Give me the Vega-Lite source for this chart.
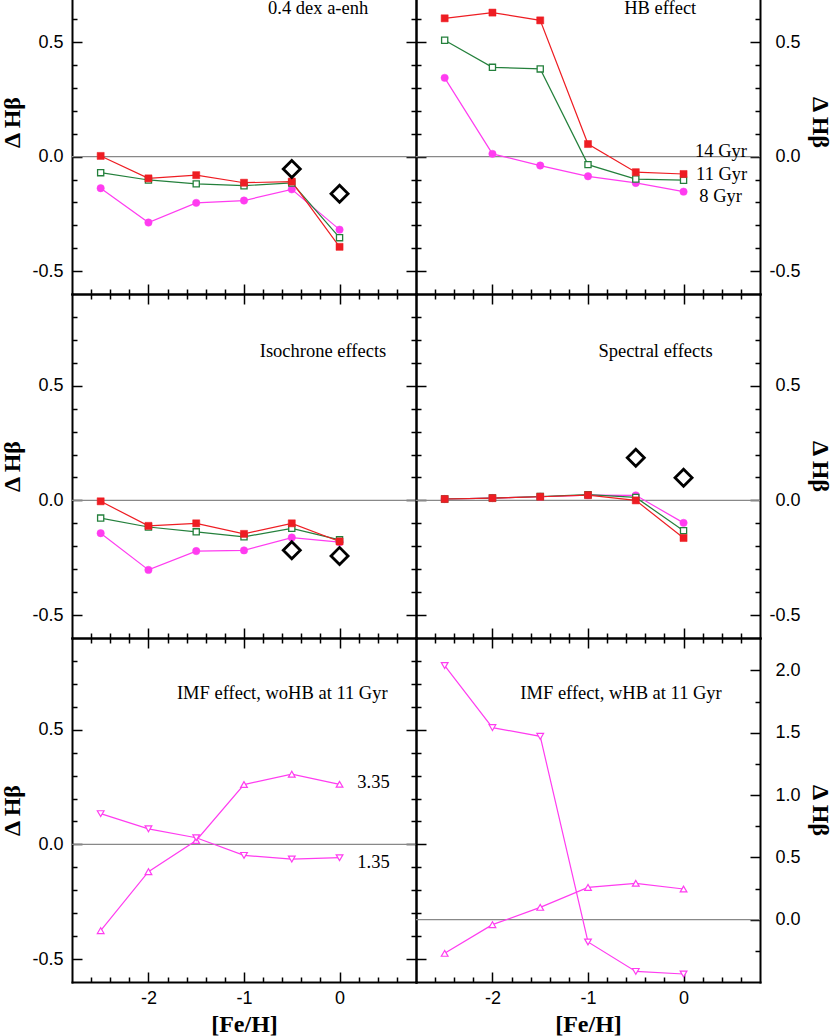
{
  "$schema": "https://vega.github.io/schema/vega-lite/v6.json",
  "padding": {"left": 0, "top": 0, "right": 0, "bottom": 0},
  "config": {
    "view": {"stroke": null},
    "axis": {"domainColor": "black", "domainWidth": 2, "domainCap": "square", "tickColor": "black", "tickWidth": 1.5, "grid": false, "labelFont": "Liberation Sans", "labelFontSize": 18, "labelColor": "black", "titleFont": "Liberation Serif", "titleFontSize": 24, "titleFontWeight": "bold", "titleColor": "black", "labelFlush": false, "labelOverlap": false, "labelBound": false}
  },
  "datasets": {
    "pts": [
      {"p":"A","s":"8","x":-2.5,"y":-0.138},{"p":"A","s":"8","x":-2,"y":-0.288},{"p":"A","s":"8","x":-1.5,"y":-0.202},{"p":"A","s":"8","x":-1,"y":-0.192},{"p":"A","s":"8","x":-0.5,"y":-0.143},{"p":"A","s":"8","x":0,"y":-0.319},
      {"p":"A","s":"11","x":-2.5,"y":-0.070},{"p":"A","s":"11","x":-2,"y":-0.102},{"p":"A","s":"11","x":-1.5,"y":-0.119},{"p":"A","s":"11","x":-1,"y":-0.127},{"p":"A","s":"11","x":-0.5,"y":-0.115},{"p":"A","s":"11","x":0,"y":-0.354},
      {"p":"A","s":"14","x":-2.5,"y":0.003},{"p":"A","s":"14","x":-2,"y":-0.095},{"p":"A","s":"14","x":-1.5,"y":-0.081},{"p":"A","s":"14","x":-1,"y":-0.114},{"p":"A","s":"14","x":-0.5,"y":-0.109},{"p":"A","s":"14","x":0,"y":-0.394},
      {"p":"A","s":"d","x":-0.5,"y":-0.054},{"p":"A","s":"d","x":0,"y":-0.162},
      {"p":"B","s":"8","x":-2.5,"y":0.344},{"p":"B","s":"8","x":-2,"y":0.012},{"p":"B","s":"8","x":-1.5,"y":-0.039},{"p":"B","s":"8","x":-1,"y":-0.086},{"p":"B","s":"8","x":-0.5,"y":-0.115},{"p":"B","s":"8","x":0,"y":-0.153},
      {"p":"B","s":"11","x":-2.5,"y":0.508},{"p":"B","s":"11","x":-2,"y":0.390},{"p":"B","s":"11","x":-1.5,"y":0.383},{"p":"B","s":"11","x":-1,"y":-0.035},{"p":"B","s":"11","x":-0.5,"y":-0.098},{"p":"B","s":"11","x":0,"y":-0.103},
      {"p":"B","s":"14","x":-2.5,"y":0.604},{"p":"B","s":"14","x":-2,"y":0.629},{"p":"B","s":"14","x":-1.5,"y":0.595},{"p":"B","s":"14","x":-1,"y":0.055},{"p":"B","s":"14","x":-0.5,"y":-0.068},{"p":"B","s":"14","x":0,"y":-0.076},
      {"p":"C","s":"8","x":-2.5,"y":-0.143},{"p":"C","s":"8","x":-2,"y":-0.303},{"p":"C","s":"8","x":-1.5,"y":-0.221},{"p":"C","s":"8","x":-1,"y":-0.218},{"p":"C","s":"8","x":-0.5,"y":-0.162},{"p":"C","s":"8","x":0,"y":-0.182},
      {"p":"C","s":"11","x":-2.5,"y":-0.077},{"p":"C","s":"11","x":-2,"y":-0.116},{"p":"C","s":"11","x":-1.5,"y":-0.137},{"p":"C","s":"11","x":-1,"y":-0.159},{"p":"C","s":"11","x":-0.5,"y":-0.122},{"p":"C","s":"11","x":0,"y":-0.172},
      {"p":"C","s":"14","x":-2.5,"y":-0.004},{"p":"C","s":"14","x":-2,"y":-0.111},{"p":"C","s":"14","x":-1.5,"y":-0.100},{"p":"C","s":"14","x":-1,"y":-0.146},{"p":"C","s":"14","x":-0.5,"y":-0.100},{"p":"C","s":"14","x":0,"y":-0.179},
      {"p":"C","s":"d","x":-0.5,"y":-0.217},{"p":"C","s":"d","x":0,"y":-0.242},
      {"p":"D","s":"8","x":-2.5,"y":0.006},{"p":"D","s":"8","x":-2,"y":0.010},{"p":"D","s":"8","x":-1.5,"y":0.016},{"p":"D","s":"8","x":-1,"y":0.023},{"p":"D","s":"8","x":-0.5,"y":0.022},{"p":"D","s":"8","x":0,"y":-0.098},
      {"p":"D","s":"11","x":-2.5,"y":0.006},{"p":"D","s":"11","x":-2,"y":0.010},{"p":"D","s":"11","x":-1.5,"y":0.017},{"p":"D","s":"11","x":-1,"y":0.025},{"p":"D","s":"11","x":-0.5,"y":0.013},{"p":"D","s":"11","x":0,"y":-0.132},
      {"p":"D","s":"14","x":-2.5,"y":0.006},{"p":"D","s":"14","x":-2,"y":0.010},{"p":"D","s":"14","x":-1.5,"y":0.016},{"p":"D","s":"14","x":-1,"y":0.023},{"p":"D","s":"14","x":-0.5,"y":0.000},{"p":"D","s":"14","x":0,"y":-0.164},
      {"p":"D","s":"d","x":-0.5,"y":0.186},{"p":"D","s":"d","x":0,"y":0.099},
      {"p":"E","s":"up","x":-2.5,"y":-0.376},{"p":"E","s":"up","x":-2,"y":-0.119},{"p":"E","s":"up","x":-1.5,"y":0.017},{"p":"E","s":"up","x":-1,"y":0.261},{"p":"E","s":"up","x":-0.5,"y":0.306},{"p":"E","s":"up","x":0,"y":0.262},
      {"p":"E","s":"down","x":-2.5,"y":0.134},{"p":"E","s":"down","x":-2,"y":0.068},{"p":"E","s":"down","x":-1.5,"y":0.029},{"p":"E","s":"down","x":-1,"y":-0.048},{"p":"E","s":"down","x":-0.5,"y":-0.064},{"p":"E","s":"down","x":0,"y":-0.058},
      {"p":"F","s":"down","x":-2.5,"y":2.039},{"p":"F","s":"down","x":-2,"y":1.541},{"p":"F","s":"down","x":-1.5,"y":1.471},{"p":"F","s":"down","x":-1,"y":-0.179},{"p":"F","s":"down","x":-0.5,"y":-0.415},{"p":"F","s":"down","x":0,"y":-0.436},
      {"p":"F","s":"up","x":-2.5,"y":-0.270},{"p":"F","s":"up","x":-2,"y":-0.040},{"p":"F","s":"up","x":-1.5,"y":0.099},{"p":"F","s":"up","x":-1,"y":0.259},{"p":"F","s":"up","x":-0.5,"y":0.292},{"p":"F","s":"up","x":0,"y":0.246}
    ],
    "lbl": [
      {"p":"A","x":0.30,"y":0.624,"t":"0.4 dex a-enh"},
      {"p":"B","x":0.133,"y":0.624,"t":"HB effect"},
      {"p":"B","x":0.663,"y":0.0,"t":"14 Gyr"},
      {"p":"B","x":0.667,"y":-0.10,"t":"11 Gyr"},
      {"p":"B","x":0.611,"y":-0.20,"t":"8 Gyr"},
      {"p":"C","x":0.489,"y":0.627,"t":"Isochrone effects"},
      {"p":"D","x":0.304,"y":0.627,"t":"Spectral effects"},
      {"p":"E","x":0.503,"y":0.632,"t":"IMF effect, woHB at 11 Gyr"},
      {"p":"E","x":0.524,"y":0.248,"t":"3.35"},
      {"p":"E","x":0.524,"y":-0.102,"t":"1.35"},
      {"p":"F","x":0.40,"y":0.632,"t":"IMF effect, wHB at 11 Gyr"}
    ]
  },
  "columns": 2,
  "spacing": 0,
  "bounds": "flush",
  "align": "each",
  "concat": [
    {
      "width": 344, "height": 294,
      "resolve": {"axis": {"x": "independent", "y": "independent"}},
      "layer": [
        {"data": {"values": [{}]}, "mark": {"type": "rule", "color": "#888888", "strokeWidth": 1.2}, "encoding": {"y": {"datum": 0, "type": "quantitative", "scale": {"domain": [-0.6, 0.684], "nice": false, "zero": false}, "axis": null}}},
        {"data": {"name": "pts"}, "transform": [{"filter": "datum.p=='A' && datum.s!='d'"}], "mark": {"type": "line", "strokeWidth": 1.2},
         "encoding": {
           "x": {"field": "x", "type": "quantitative", "scale": {"domain": [-2.8, 0.8], "nice": false, "zero": false}, "axis": {"orient": "bottom", "values": [-2.6,-2.4,-2.2,-2,-1.8,-1.6,-1.4,-1.2,-1,-0.8,-0.6,-0.4,-0.2,0,0.2,0.4,0.6], "tickSize": {"condition": {"test": "abs(datum.value-round(datum.value))<0.001", "value": -10}, "value": -5}, "labels": false, "title": null}},
           "y": {"field": "y", "type": "quantitative", "scale": {"domain": [-0.6, 0.684], "nice": false, "zero": false}, "axis": {"orient": "left", "values": [-0.5,-0.4,-0.3,-0.2,-0.1,0,0.1,0.2,0.3,0.4,0.5,0.6], "tickSize": {"condition": {"test": "abs(datum.value*2-round(datum.value*2))<0.001", "value": -10}, "value": -5}, "labelExpr": "abs(datum.value*2-round(datum.value*2))<0.001 ? (datum.value<-0.001?'-':'')+format(abs(datum.value),'.1f') : ''", "labelPadding": 19, "title": "Δ Hβ", "titlePadding": 7, "titleY": 122}},
           "color": {"field": "s", "type": "nominal", "scale": {"domain": ["14","11","8","up","down"], "range": ["#ee1d23","#24803c","#ff3cf0","#ff3cf0","#ff3cf0"]}, "legend": null}
         }},
        {"data": {"name": "pts"}, "transform": [{"filter": "datum.p=='A'"}], "mark": {"type": "point", "opacity": 1, "filled": true},
         "encoding": {
           "x": {"field": "x", "type": "quantitative", "scale": {"domain": [-2.8, 0.8], "nice": false, "zero": false}, "axis": null},
           "y": {"field": "y", "type": "quantitative", "scale": {"domain": [-0.6, 0.684], "nice": false, "zero": false}, "axis": null},
           "shape": {"field": "s", "type": "nominal", "scale": {"domain": ["14","11","8","d","up","down"], "range": ["square","square","circle","diamond","triangle-up","triangle-down"]}, "legend": null},
           "fill": {"field": "s", "type": "nominal", "scale": {"domain": ["14","11","8","d","up","down"], "range": ["#ee1d23","#ffffff","#ff3cf0","transparent","#ffffff","#ffffff"]}, "legend": null},
           "stroke": {"field": "s", "type": "nominal", "scale": {"domain": ["14","11","8","d","up","down"], "range": ["#ee1d23","#24803c","#ff3cf0","#000000","#ff3cf0","#ff3cf0"]}, "legend": null},
           "size": {"field": "s", "type": "nominal", "scale": {"type": "ordinal", "domain": ["14","11","8","d","up","down"], "range": [50,38,55,290,45,45]}, "legend": null},
           "strokeWidth": {"field": "s", "type": "nominal", "scale": {"type": "ordinal", "domain": ["14","11","8","d","up","down"], "range": [0.5,1.3,0.5,2.8,1.2,1.2]}, "legend": null}
         }},
        {"data": {"name": "lbl"}, "transform": [{"filter": "datum.p=='A'"}], "mark": {"type": "text", "align": "right", "baseline": "alphabetic", "font": "Liberation Serif", "fontSize": 18.5, "color": "black", "clip": true},
         "encoding": {
           "x": {"field": "x", "type": "quantitative", "scale": {"domain": [-2.8, 0.8], "nice": false, "zero": false}, "axis": null},
           "y": {"field": "y", "type": "quantitative", "scale": {"domain": [-0.6, 0.684], "nice": false, "zero": false}, "axis": {"orient": "right", "values": [-0.5,-0.4,-0.3,-0.2,-0.1,0,0.1,0.2,0.3,0.4,0.5,0.6], "tickSize": {"condition": {"test": "abs(datum.value*2-round(datum.value*2))<0.001", "value": -10}, "value": -5}, "labels": false, "title": null}},
           "text": {"field": "t"}
         }}
      ]
    },
    {
      "width": 344, "height": 294,
      "resolve": {"axis": {"x": "independent", "y": "independent"}},
      "layer": [
        {"data": {"values": [{}]}, "mark": {"type": "rule", "color": "#888888", "strokeWidth": 1.2}, "encoding": {"y": {"datum": 0, "type": "quantitative", "scale": {"domain": [-0.6, 0.684], "nice": false, "zero": false}, "axis": null}}},
        {"data": {"name": "pts"}, "transform": [{"filter": "datum.p=='B' && datum.s!='d'"}], "mark": {"type": "line", "strokeWidth": 1.2},
         "encoding": {
           "x": {"field": "x", "type": "quantitative", "scale": {"domain": [-2.8, 0.8], "nice": false, "zero": false}, "axis": {"orient": "bottom", "values": [-2.6,-2.4,-2.2,-2,-1.8,-1.6,-1.4,-1.2,-1,-0.8,-0.6,-0.4,-0.2,0,0.2,0.4,0.6], "tickSize": {"condition": {"test": "abs(datum.value-round(datum.value))<0.001", "value": -10}, "value": -5}, "labels": false, "title": null}},
           "y": {"field": "y", "type": "quantitative", "scale": {"domain": [-0.6, 0.684], "nice": false, "zero": false}, "axis": {"orient": "left", "values": [-0.5,-0.4,-0.3,-0.2,-0.1,0,0.1,0.2,0.3,0.4,0.5,0.6], "tickSize": {"condition": {"test": "abs(datum.value*2-round(datum.value*2))<0.001", "value": -10}, "value": -5}, "labels": false, "title": null}},
           "color": {"field": "s", "type": "nominal", "scale": {"domain": ["14","11","8","up","down"], "range": ["#ee1d23","#24803c","#ff3cf0","#ff3cf0","#ff3cf0"]}, "legend": null}
         }},
        {"data": {"name": "pts"}, "transform": [{"filter": "datum.p=='B'"}], "mark": {"type": "point", "opacity": 1, "filled": true},
         "encoding": {
           "x": {"field": "x", "type": "quantitative", "scale": {"domain": [-2.8, 0.8], "nice": false, "zero": false}, "axis": null},
           "y": {"field": "y", "type": "quantitative", "scale": {"domain": [-0.6, 0.684], "nice": false, "zero": false}, "axis": null},
           "shape": {"field": "s", "type": "nominal", "scale": {"domain": ["14","11","8","d","up","down"], "range": ["square","square","circle","diamond","triangle-up","triangle-down"]}, "legend": null},
           "fill": {"field": "s", "type": "nominal", "scale": {"domain": ["14","11","8","d","up","down"], "range": ["#ee1d23","#ffffff","#ff3cf0","transparent","#ffffff","#ffffff"]}, "legend": null},
           "stroke": {"field": "s", "type": "nominal", "scale": {"domain": ["14","11","8","d","up","down"], "range": ["#ee1d23","#24803c","#ff3cf0","#000000","#ff3cf0","#ff3cf0"]}, "legend": null},
           "size": {"field": "s", "type": "nominal", "scale": {"type": "ordinal", "domain": ["14","11","8","d","up","down"], "range": [50,38,55,290,45,45]}, "legend": null},
           "strokeWidth": {"field": "s", "type": "nominal", "scale": {"type": "ordinal", "domain": ["14","11","8","d","up","down"], "range": [0.5,1.3,0.5,2.8,1.2,1.2]}, "legend": null}
         }},
        {"data": {"name": "lbl"}, "transform": [{"filter": "datum.p=='B'"}], "mark": {"type": "text", "align": "right", "baseline": "alphabetic", "font": "Liberation Serif", "fontSize": 18.5, "color": "black", "clip": true},
         "encoding": {
           "x": {"field": "x", "type": "quantitative", "scale": {"domain": [-2.8, 0.8], "nice": false, "zero": false}, "axis": null},
           "y": {"field": "y", "type": "quantitative", "scale": {"domain": [-0.6, 0.684], "nice": false, "zero": false}, "axis": {"orient": "right", "values": [-0.5,-0.4,-0.3,-0.2,-0.1,0,0.1,0.2,0.3,0.4,0.5,0.6], "tickSize": {"condition": {"test": "abs(datum.value*2-round(datum.value*2))<0.001", "value": -10}, "value": -5}, "labelExpr": "abs(datum.value*2-round(datum.value*2))<0.001 ? (datum.value<-0.001?'-':'')+format(abs(datum.value),'.1f') : ''", "labelAlign": "right", "labelPadding": 50, "title": "Δ Hβ", "titlePadding": 2, "titleY": 122}},
           "text": {"field": "t"}
         }}
      ]
    },
    {
      "width": 344, "height": 344,
      "resolve": {"axis": {"x": "independent", "y": "independent"}},
      "layer": [
        {"data": {"values": [{}]}, "mark": {"type": "rule", "color": "#888888", "strokeWidth": 1.2}, "encoding": {"y": {"datum": 0, "type": "quantitative", "scale": {"domain": [-0.6, 0.9], "nice": false, "zero": false}, "axis": null}}},
        {"data": {"name": "pts"}, "transform": [{"filter": "datum.p=='C' && datum.s!='d'"}], "mark": {"type": "line", "strokeWidth": 1.2},
         "encoding": {
           "x": {"field": "x", "type": "quantitative", "scale": {"domain": [-2.8, 0.8], "nice": false, "zero": false}, "axis": {"orient": "bottom", "values": [-2.6,-2.4,-2.2,-2,-1.8,-1.6,-1.4,-1.2,-1,-0.8,-0.6,-0.4,-0.2,0,0.2,0.4,0.6], "tickSize": {"condition": {"test": "abs(datum.value-round(datum.value))<0.001", "value": -10}, "value": -5}, "labels": false, "title": null}},
           "y": {"field": "y", "type": "quantitative", "scale": {"domain": [-0.6, 0.9], "nice": false, "zero": false}, "axis": {"orient": "left", "values": [-0.5,-0.4,-0.3,-0.2,-0.1,0,0.1,0.2,0.3,0.4,0.5,0.6,0.7,0.8], "tickSize": {"condition": {"test": "abs(datum.value*2-round(datum.value*2))<0.001", "value": -10}, "value": -5}, "labelExpr": "abs(datum.value*2-round(datum.value*2))<0.001 ? (datum.value<-0.001?'-':'')+format(abs(datum.value),'.1f') : ''", "labelPadding": 19, "title": "Δ Hβ", "titlePadding": 7}},
           "color": {"field": "s", "type": "nominal", "scale": {"domain": ["14","11","8","up","down"], "range": ["#ee1d23","#24803c","#ff3cf0","#ff3cf0","#ff3cf0"]}, "legend": null}
         }},
        {"data": {"name": "pts"}, "transform": [{"filter": "datum.p=='C'"}], "mark": {"type": "point", "opacity": 1, "filled": true},
         "encoding": {
           "x": {"field": "x", "type": "quantitative", "scale": {"domain": [-2.8, 0.8], "nice": false, "zero": false}, "axis": null},
           "y": {"field": "y", "type": "quantitative", "scale": {"domain": [-0.6, 0.9], "nice": false, "zero": false}, "axis": null},
           "shape": {"field": "s", "type": "nominal", "scale": {"domain": ["14","11","8","d","up","down"], "range": ["square","square","circle","diamond","triangle-up","triangle-down"]}, "legend": null},
           "fill": {"field": "s", "type": "nominal", "scale": {"domain": ["14","11","8","d","up","down"], "range": ["#ee1d23","#ffffff","#ff3cf0","transparent","#ffffff","#ffffff"]}, "legend": null},
           "stroke": {"field": "s", "type": "nominal", "scale": {"domain": ["14","11","8","d","up","down"], "range": ["#ee1d23","#24803c","#ff3cf0","#000000","#ff3cf0","#ff3cf0"]}, "legend": null},
           "size": {"field": "s", "type": "nominal", "scale": {"type": "ordinal", "domain": ["14","11","8","d","up","down"], "range": [50,38,55,290,45,45]}, "legend": null},
           "strokeWidth": {"field": "s", "type": "nominal", "scale": {"type": "ordinal", "domain": ["14","11","8","d","up","down"], "range": [0.5,1.3,0.5,2.8,1.2,1.2]}, "legend": null}
         }},
        {"data": {"name": "lbl"}, "transform": [{"filter": "datum.p=='C'"}], "mark": {"type": "text", "align": "right", "baseline": "alphabetic", "font": "Liberation Serif", "fontSize": 18.5, "color": "black", "clip": true},
         "encoding": {
           "x": {"field": "x", "type": "quantitative", "scale": {"domain": [-2.8, 0.8], "nice": false, "zero": false}, "axis": {"orient": "top", "values": [-2.6,-2.4,-2.2,-2,-1.8,-1.6,-1.4,-1.2,-1,-0.8,-0.6,-0.4,-0.2,0,0.2,0.4,0.6], "tickSize": {"condition": {"test": "abs(datum.value-round(datum.value))<0.001", "value": -10}, "value": -5}, "labels": false, "title": null}},
           "y": {"field": "y", "type": "quantitative", "scale": {"domain": [-0.6, 0.9], "nice": false, "zero": false}, "axis": {"orient": "right", "values": [-0.5,-0.4,-0.3,-0.2,-0.1,0,0.1,0.2,0.3,0.4,0.5,0.6,0.7,0.8], "tickSize": {"condition": {"test": "abs(datum.value*2-round(datum.value*2))<0.001", "value": -10}, "value": -5}, "labels": false, "title": null}},
           "text": {"field": "t"}
         }}
      ]
    },
    {
      "width": 344, "height": 344,
      "resolve": {"axis": {"x": "independent", "y": "independent"}},
      "layer": [
        {"data": {"values": [{}]}, "mark": {"type": "rule", "color": "#888888", "strokeWidth": 1.2}, "encoding": {"y": {"datum": 0, "type": "quantitative", "scale": {"domain": [-0.6, 0.9], "nice": false, "zero": false}, "axis": null}}},
        {"data": {"name": "pts"}, "transform": [{"filter": "datum.p=='D' && datum.s!='d'"}], "mark": {"type": "line", "strokeWidth": 1.2},
         "encoding": {
           "x": {"field": "x", "type": "quantitative", "scale": {"domain": [-2.8, 0.8], "nice": false, "zero": false}, "axis": {"orient": "bottom", "values": [-2.6,-2.4,-2.2,-2,-1.8,-1.6,-1.4,-1.2,-1,-0.8,-0.6,-0.4,-0.2,0,0.2,0.4,0.6], "tickSize": {"condition": {"test": "abs(datum.value-round(datum.value))<0.001", "value": -10}, "value": -5}, "labels": false, "title": null}},
           "y": {"field": "y", "type": "quantitative", "scale": {"domain": [-0.6, 0.9], "nice": false, "zero": false}, "axis": {"orient": "left", "values": [-0.5,-0.4,-0.3,-0.2,-0.1,0,0.1,0.2,0.3,0.4,0.5,0.6,0.7,0.8], "tickSize": {"condition": {"test": "abs(datum.value*2-round(datum.value*2))<0.001", "value": -10}, "value": -5}, "labels": false, "title": null}},
           "color": {"field": "s", "type": "nominal", "scale": {"domain": ["14","11","8","up","down"], "range": ["#ee1d23","#24803c","#ff3cf0","#ff3cf0","#ff3cf0"]}, "legend": null}
         }},
        {"data": {"name": "pts"}, "transform": [{"filter": "datum.p=='D'"}], "mark": {"type": "point", "opacity": 1, "filled": true},
         "encoding": {
           "x": {"field": "x", "type": "quantitative", "scale": {"domain": [-2.8, 0.8], "nice": false, "zero": false}, "axis": null},
           "y": {"field": "y", "type": "quantitative", "scale": {"domain": [-0.6, 0.9], "nice": false, "zero": false}, "axis": null},
           "shape": {"field": "s", "type": "nominal", "scale": {"domain": ["14","11","8","d","up","down"], "range": ["square","square","circle","diamond","triangle-up","triangle-down"]}, "legend": null},
           "fill": {"field": "s", "type": "nominal", "scale": {"domain": ["14","11","8","d","up","down"], "range": ["#ee1d23","#ffffff","#ff3cf0","transparent","#ffffff","#ffffff"]}, "legend": null},
           "stroke": {"field": "s", "type": "nominal", "scale": {"domain": ["14","11","8","d","up","down"], "range": ["#ee1d23","#24803c","#ff3cf0","#000000","#ff3cf0","#ff3cf0"]}, "legend": null},
           "size": {"field": "s", "type": "nominal", "scale": {"type": "ordinal", "domain": ["14","11","8","d","up","down"], "range": [50,38,55,290,45,45]}, "legend": null},
           "strokeWidth": {"field": "s", "type": "nominal", "scale": {"type": "ordinal", "domain": ["14","11","8","d","up","down"], "range": [0.5,1.3,0.5,2.8,1.2,1.2]}, "legend": null}
         }},
        {"data": {"name": "lbl"}, "transform": [{"filter": "datum.p=='D'"}], "mark": {"type": "text", "align": "right", "baseline": "alphabetic", "font": "Liberation Serif", "fontSize": 18.5, "color": "black", "clip": true},
         "encoding": {
           "x": {"field": "x", "type": "quantitative", "scale": {"domain": [-2.8, 0.8], "nice": false, "zero": false}, "axis": {"orient": "top", "values": [-2.6,-2.4,-2.2,-2,-1.8,-1.6,-1.4,-1.2,-1,-0.8,-0.6,-0.4,-0.2,0,0.2,0.4,0.6], "tickSize": {"condition": {"test": "abs(datum.value-round(datum.value))<0.001", "value": -10}, "value": -5}, "labels": false, "title": null}},
           "y": {"field": "y", "type": "quantitative", "scale": {"domain": [-0.6, 0.9], "nice": false, "zero": false}, "axis": {"orient": "right", "values": [-0.5,-0.4,-0.3,-0.2,-0.1,0,0.1,0.2,0.3,0.4,0.5,0.6,0.7,0.8], "tickSize": {"condition": {"test": "abs(datum.value*2-round(datum.value*2))<0.001", "value": -10}, "value": -5}, "labelExpr": "abs(datum.value*2-round(datum.value*2))<0.001 ? (datum.value<-0.001?'-':'')+format(abs(datum.value),'.1f') : ''", "labelAlign": "right", "labelPadding": 50, "title": "Δ Hβ", "titlePadding": 2}},
           "text": {"field": "t"}
         }}
      ]
    },
    {
      "width": 344, "height": 344,
      "resolve": {"axis": {"x": "independent", "y": "independent"}},
      "layer": [
        {"data": {"values": [{}]}, "mark": {"type": "rule", "color": "#888888", "strokeWidth": 1.2}, "encoding": {"y": {"datum": 0, "type": "quantitative", "scale": {"domain": [-0.6, 0.9], "nice": false, "zero": false}, "axis": null}}},
        {"data": {"name": "pts"}, "transform": [{"filter": "datum.p=='E' && datum.s!='d'"}], "mark": {"type": "line", "strokeWidth": 1.2},
         "encoding": {
           "x": {"field": "x", "type": "quantitative", "scale": {"domain": [-2.8, 0.8], "nice": false, "zero": false}, "axis": {"orient": "bottom", "values": [-2.6,-2.4,-2.2,-2,-1.8,-1.6,-1.4,-1.2,-1,-0.8,-0.6,-0.4,-0.2,0,0.2,0.4,0.6], "tickSize": {"condition": {"test": "abs(datum.value-round(datum.value))<0.001", "value": -10}, "value": -5}, "labelExpr": "abs(datum.value-round(datum.value))<0.001 ? (datum.value<-0.001?'-':'')+format(abs(datum.value),'.0f') : ''", "labelPadding": 17, "title": "[Fe/H]", "titlePadding": 0}},
           "y": {"field": "y", "type": "quantitative", "scale": {"domain": [-0.6, 0.9], "nice": false, "zero": false}, "axis": {"orient": "left", "values": [-0.5,-0.4,-0.3,-0.2,-0.1,0,0.1,0.2,0.3,0.4,0.5,0.6,0.7,0.8], "tickSize": {"condition": {"test": "abs(datum.value*2-round(datum.value*2))<0.001", "value": -10}, "value": -5}, "labelExpr": "abs(datum.value*2-round(datum.value*2))<0.001 ? (datum.value<-0.001?'-':'')+format(abs(datum.value),'.1f') : ''", "labelPadding": 19, "title": "Δ Hβ", "titlePadding": 7}},
           "color": {"field": "s", "type": "nominal", "scale": {"domain": ["14","11","8","up","down"], "range": ["#ee1d23","#24803c","#ff3cf0","#ff3cf0","#ff3cf0"]}, "legend": null}
         }},
        {"data": {"name": "pts"}, "transform": [{"filter": "datum.p=='E'"}], "mark": {"type": "point", "opacity": 1, "filled": true},
         "encoding": {
           "x": {"field": "x", "type": "quantitative", "scale": {"domain": [-2.8, 0.8], "nice": false, "zero": false}, "axis": null},
           "y": {"field": "y", "type": "quantitative", "scale": {"domain": [-0.6, 0.9], "nice": false, "zero": false}, "axis": null},
           "shape": {"field": "s", "type": "nominal", "scale": {"domain": ["14","11","8","d","up","down"], "range": ["square","square","circle","diamond","triangle-up","triangle-down"]}, "legend": null},
           "fill": {"field": "s", "type": "nominal", "scale": {"domain": ["14","11","8","d","up","down"], "range": ["#ee1d23","#ffffff","#ff3cf0","transparent","#ffffff","#ffffff"]}, "legend": null},
           "stroke": {"field": "s", "type": "nominal", "scale": {"domain": ["14","11","8","d","up","down"], "range": ["#ee1d23","#24803c","#ff3cf0","#000000","#ff3cf0","#ff3cf0"]}, "legend": null},
           "size": {"field": "s", "type": "nominal", "scale": {"type": "ordinal", "domain": ["14","11","8","d","up","down"], "range": [50,38,55,290,45,45]}, "legend": null},
           "strokeWidth": {"field": "s", "type": "nominal", "scale": {"type": "ordinal", "domain": ["14","11","8","d","up","down"], "range": [0.5,1.3,0.5,2.8,1.2,1.2]}, "legend": null}
         }},
        {"data": {"name": "lbl"}, "transform": [{"filter": "datum.p=='E'"}], "mark": {"type": "text", "align": "right", "baseline": "alphabetic", "font": "Liberation Serif", "fontSize": 18.5, "color": "black", "clip": true},
         "encoding": {
           "x": {"field": "x", "type": "quantitative", "scale": {"domain": [-2.8, 0.8], "nice": false, "zero": false}, "axis": {"orient": "top", "values": [-2.6,-2.4,-2.2,-2,-1.8,-1.6,-1.4,-1.2,-1,-0.8,-0.6,-0.4,-0.2,0,0.2,0.4,0.6], "tickSize": {"condition": {"test": "abs(datum.value-round(datum.value))<0.001", "value": -10}, "value": -5}, "labels": false, "title": null}},
           "y": {"field": "y", "type": "quantitative", "scale": {"domain": [-0.6, 0.9], "nice": false, "zero": false}, "axis": {"orient": "right", "values": [-0.5,-0.4,-0.3,-0.2,-0.1,0,0.1,0.2,0.3,0.4,0.5,0.6,0.7,0.8], "tickSize": {"condition": {"test": "abs(datum.value*2-round(datum.value*2))<0.001", "value": -10}, "value": -5}, "labels": false, "title": null}},
           "text": {"field": "t"}
         }}
      ]
    },
    {
      "width": 344, "height": 344,
      "resolve": {"scale": {"y": "independent"}, "axis": {"x": "independent", "y": "independent"}},
      "layer": [
        {"data": {"values": [{}]}, "mark": {"type": "rule", "color": "#888888", "strokeWidth": 1.2}, "encoding": {"y": {"datum": 0, "type": "quantitative", "scale": {"domain": [-0.5, 2.26], "nice": false, "zero": false}, "axis": null}}},
        {"data": {"name": "pts"}, "transform": [{"filter": "datum.p=='F' && datum.s!='d'"}], "mark": {"type": "line", "strokeWidth": 1.2},
         "encoding": {
           "x": {"field": "x", "type": "quantitative", "scale": {"domain": [-2.8, 0.8], "nice": false, "zero": false}, "axis": {"orient": "bottom", "values": [-2.6,-2.4,-2.2,-2,-1.8,-1.6,-1.4,-1.2,-1,-0.8,-0.6,-0.4,-0.2,0,0.2,0.4,0.6], "tickSize": {"condition": {"test": "abs(datum.value-round(datum.value))<0.001", "value": -10}, "value": -5}, "labelExpr": "abs(datum.value-round(datum.value))<0.001 ? (datum.value<-0.001?'-':'')+format(abs(datum.value),'.0f') : ''", "labelPadding": 17, "title": "[Fe/H]", "titlePadding": 0}},
           "y": {"field": "y", "type": "quantitative", "scale": {"domain": [-0.5, 2.26], "nice": false, "zero": false}, "axis": {"orient": "right", "values": [-0.25,0,0.25,0.5,0.75,1,1.25,1.5,1.75,2], "tickSize": {"condition": {"test": "abs(datum.value*2-round(datum.value*2))<0.001", "value": -10}, "value": -5}, "labelExpr": "abs(datum.value*2-round(datum.value*2))<0.001 ? (datum.value<-0.001?'-':'')+format(abs(datum.value),'.1f') : ''", "labelAlign": "right", "labelPadding": 50, "title": "Δ Hβ", "titlePadding": 2}},
           "color": {"field": "s", "type": "nominal", "scale": {"domain": ["14","11","8","up","down"], "range": ["#ee1d23","#24803c","#ff3cf0","#ff3cf0","#ff3cf0"]}, "legend": null}
         }},
        {"data": {"name": "pts"}, "transform": [{"filter": "datum.p=='F'"}], "mark": {"type": "point", "opacity": 1, "filled": true},
         "encoding": {
           "x": {"field": "x", "type": "quantitative", "scale": {"domain": [-2.8, 0.8], "nice": false, "zero": false}, "axis": null},
           "y": {"field": "y", "type": "quantitative", "scale": {"domain": [-0.5, 2.26], "nice": false, "zero": false}, "axis": null},
           "shape": {"field": "s", "type": "nominal", "scale": {"domain": ["14","11","8","d","up","down"], "range": ["square","square","circle","diamond","triangle-up","triangle-down"]}, "legend": null},
           "fill": {"field": "s", "type": "nominal", "scale": {"domain": ["14","11","8","d","up","down"], "range": ["#ee1d23","#ffffff","#ff3cf0","transparent","#ffffff","#ffffff"]}, "legend": null},
           "stroke": {"field": "s", "type": "nominal", "scale": {"domain": ["14","11","8","d","up","down"], "range": ["#ee1d23","#24803c","#ff3cf0","#000000","#ff3cf0","#ff3cf0"]}, "legend": null},
           "size": {"field": "s", "type": "nominal", "scale": {"type": "ordinal", "domain": ["14","11","8","d","up","down"], "range": [50,38,55,290,45,45]}, "legend": null},
           "strokeWidth": {"field": "s", "type": "nominal", "scale": {"type": "ordinal", "domain": ["14","11","8","d","up","down"], "range": [0.5,1.3,0.5,2.8,1.2,1.2]}, "legend": null}
         }},
        {"data": {"name": "lbl"}, "transform": [{"filter": "datum.p=='F'"}], "mark": {"type": "text", "align": "right", "baseline": "alphabetic", "font": "Liberation Serif", "fontSize": 18.5, "color": "black", "clip": true},
         "encoding": {
           "x": {"field": "x", "type": "quantitative", "scale": {"domain": [-2.8, 0.8], "nice": false, "zero": false}, "axis": {"orient": "top", "values": [-2.6,-2.4,-2.2,-2,-1.8,-1.6,-1.4,-1.2,-1,-0.8,-0.6,-0.4,-0.2,0,0.2,0.4,0.6], "tickSize": {"condition": {"test": "abs(datum.value-round(datum.value))<0.001", "value": -10}, "value": -5}, "labels": false, "title": null}},
           "y": {"field": "y", "type": "quantitative", "scale": {"domain": [-0.6, 0.9], "nice": false, "zero": false}, "axis": {"orient": "left", "values": [-0.5,-0.4,-0.3,-0.2,-0.1,0,0.1,0.2,0.3,0.4,0.5,0.6,0.7,0.8], "tickSize": {"condition": {"test": "abs(datum.value*2-round(datum.value*2))<0.001", "value": -10}, "value": -5}, "labels": false, "title": null}},
           "text": {"field": "t"}
         }}
      ]
    }
  ]
}
